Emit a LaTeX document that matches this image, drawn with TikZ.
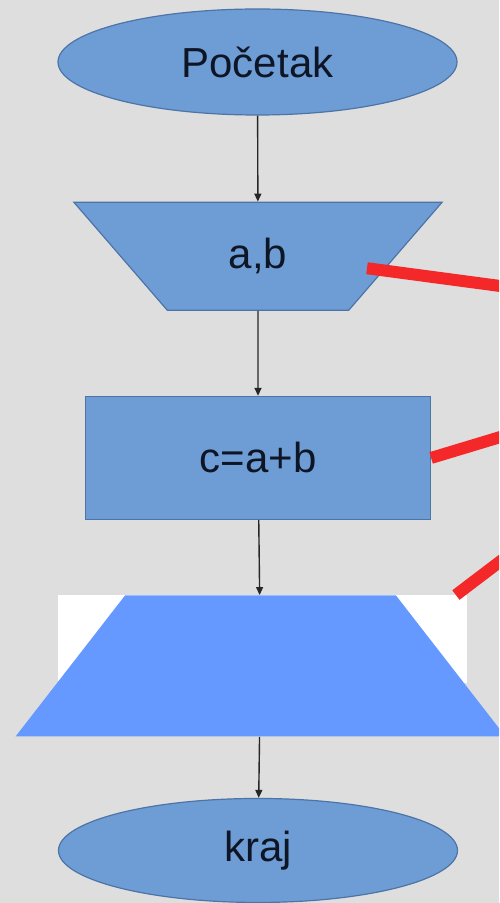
\documentclass[tikz,border=0pt]{standalone}
\usepackage{fontspec}
\setmainfont{Liberation Sans}
\usepackage{tikz}
\usetikzlibrary{arrows.meta, positioning, shapes.geometric}

\definecolor{boxblue}{HTML}{6E9DD6}
\definecolor{boxline}{HTML}{4C74A6}
\definecolor{outblue}{HTML}{6699FF}
\definecolor{txtdark}{HTML}{0E1626}
\definecolor{paper}{HTML}{DEDEDE}
\definecolor{marker}{HTML}{F42828}

\begin{document}
\begin{tikzpicture}[
    x=0.5pt, y=-0.5pt,
    terminal/.style={ellipse, draw=boxline, fill=boxblue, line width=0.6pt, inner sep=0pt, minimum width=199.5pt, font=\fontsize{21}{25}\selectfont, text=txtdark},
    inputbox/.style={trapezium, trapezium left angle=130, trapezium right angle=130, trapezium stretches=true, draw=boxline, fill=boxblue, line width=0.6pt, inner sep=0pt, minimum width=185pt, minimum height=54pt, font=\fontsize{21}{25}\selectfont, text=txtdark},
    process/.style={rectangle, draw=boxline, fill=boxblue, line width=0.6pt, minimum width=172.5pt, minimum height=61.5pt, font=\fontsize{21}{25}\selectfont, text=txtdark},
    outputbox/.style={trapezium, trapezium left angle=68, trapezium right angle=68, trapezium stretches=true, fill=outblue, inner sep=2pt, minimum width=245pt, minimum height=70.5pt},
    maskbox/.style={rectangle, fill=white, inner sep=0pt, minimum width=204.5pt, minimum height=44pt},
    arrow/.style={-{Triangle[length=4pt, width=3.5pt]}, line width=0.7pt, black!85},
    pointer/.style={line width=6pt, marker},
]
% paper
\fill[paper] (0,0) rectangle (499,903);
\clip (0,0) rectangle (499,903);

% Flowchart
\node[terminal, minimum height=53pt] (start) at (257.5,62) {Početak};
\node[inputbox, below=43pt of start, xshift=0.25pt] (inp) {a,b};
\node[process, below=42.5pt of inp] (calc) {c=a+b};
\node[maskbox, below=37.5pt of calc, xshift=2pt] (outbg) {};
\node[outputbox, anchor=north, xshift=-0.75pt] (out) at (outbg.north) {};
\node[terminal, minimum height=52pt, below=30.5pt of out, xshift=-1.25pt] (end) {kraj};

% Flow arrows
\draw[arrow] (start) -- (inp);
\draw[arrow] (inp) -- (calc);
\draw[arrow] (calc) -- (out);
\draw[arrow] (out) -- (end);

% Red pointers (going off to the right)
\coordinate (r1) at (560,294);
\coordinate (r2) at (560,419);
\coordinate (r3) at (560,516);
\draw[pointer] ([shift={(54.5pt,-6pt)}]inp.center) -- (r1);
\draw[pointer] (calc.east) -- (r2);
\draw[pointer] ([xshift=-5.5pt]outbg.north east) -- (r3);
\end{tikzpicture}
\end{document}
